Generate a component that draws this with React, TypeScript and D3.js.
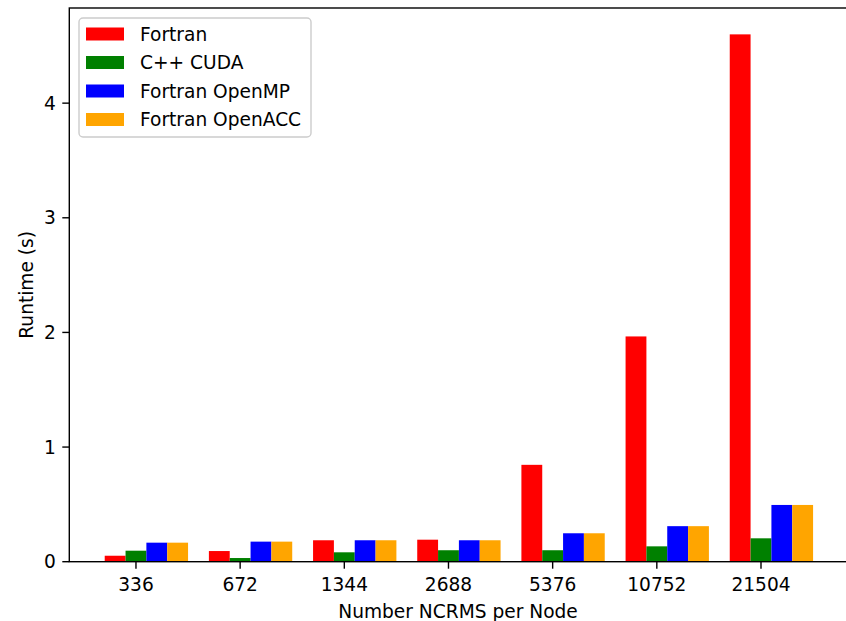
import React, { useEffect, useRef } from 'react';
import * as d3 from 'd3';

const categories = ['336', '672', '1344', '2688', '5376', '10752', '21504'];
const seriesNames = ['Fortran', 'C++ CUDA', 'Fortran OpenMP', 'Fortran OpenACC'];
const seriesColors = ['#ff0000', '#008000', '#0000ff', '#ffa500'];

const fortran = [0.052, 0.093, 0.187, 0.192, 0.845, 1.965, 4.6];
const cudaCpp = [0.096, 0.032, 0.082, 0.1, 0.1, 0.134, 0.204];
const fortranOmp = [0.166, 0.175, 0.187, 0.187, 0.248, 0.31, 0.495];
const fortranAcc = [0.166, 0.175, 0.187, 0.187, 0.248, 0.31, 0.495];

const yTicks = [0, 1, 2, 3, 4];

const W = 846;
const H = 621;

export default function App() {
    const ref = useRef<SVGSVGElement>(null);

    useEffect(() => {
        document.body.style.margin = '0';
        document.documentElement.style.overflow = 'hidden';

        const svg = d3.select(ref.current);
        svg.selectAll('*').remove();

        const series = [fortran, cudaCpp, fortranOmp, fortranAcc];
        const barW = 0.2;
        const offsets = [-0.2, 0, 0.2, 0.4];

        // matplotlib-like limits with 5% margin
        const x = d3.scaleLinear().domain([-0.64, 6.84]).range([69.3, 848.5]);
        const yMax = d3.max(fortran)! * 1.05;
        const y = d3.scaleLinear().domain([0, yMax]).range([561.7, 8]);

        const font = 'DejaVu Sans, sans-serif';
        const fs = 18.6;

        series.forEach((vals, s) => {
            svg.append('g')
                .selectAll('rect')
                .data(vals)
                .enter()
                .append('rect')
                .attr('x', (d, i) => x(i + offsets[s] - barW / 2))
                .attr('width', x(barW) - x(0))
                .attr('y', d => y(d))
                .attr('height', d => y(0) - y(d))
                .attr('fill', seriesColors[s]);
        });

        // spines
        const [x0, x1] = x.range();
        const [yb, yt] = y.range();
        svg.append('rect')
            .attr('x', x0).attr('y', yt)
            .attr('width', x1 - x0).attr('height', yb - yt)
            .attr('fill', 'none').attr('stroke', '#000').attr('stroke-width', 1.4);

        // x ticks
        const xg = svg.append('g');
        categories.forEach((c, i) => {
            xg.append('line')
                .attr('x1', x(i)).attr('x2', x(i))
                .attr('y1', yb).attr('y2', yb + 7)
                .attr('stroke', '#000').attr('stroke-width', 1.4);
            xg.append('text')
                .attr('x', x(i)).attr('y', 591)
                .attr('text-anchor', 'middle')
                .attr('font-family', font).attr('font-size', fs)
                .text(c);
        });

        // y ticks
        const yg = svg.append('g');
        yTicks.forEach(t => {
            yg.append('line')
                .attr('x1', x0 - 7).attr('x2', x0)
                .attr('y1', y(t)).attr('y2', y(t))
                .attr('stroke', '#000').attr('stroke-width', 1.4);
            yg.append('text')
                .attr('x', x0 - 13.5).attr('y', y(t))
                .attr('dy', '0.36em')
                .attr('text-anchor', 'end')
                .attr('font-family', font).attr('font-size', fs)
                .text(t);
        });

        svg.append('text')
            .attr('x', 458).attr('y', 618)
            .attr('text-anchor', 'middle')
            .attr('font-family', font).attr('font-size', fs)
            .text('Number NCRMS per Node');

        svg.append('text')
            .attr('transform', `translate(33,${(yb + yt) / 2}) rotate(-90)`)
            .attr('text-anchor', 'middle')
            .attr('font-family', font).attr('font-size', fs)
            .text('Runtime (s)');

        // legend
        const lg = svg.append('g');
        lg.append('rect')
            .attr('x', 79).attr('y', 18)
            .attr('width', 232).attr('height', 119)
            .attr('rx', 4)
            .attr('fill', '#fff').attr('fill-opacity', 0.8)
            .attr('stroke', '#cccccc').attr('stroke-width', 1.4);
        seriesNames.forEach((name, i) => {
            const cy = 34 + i * 28.5;
            lg.append('rect')
                .attr('x', 86).attr('y', cy - 6.5)
                .attr('width', 38).attr('height', 13)
                .attr('fill', seriesColors[i]);
            lg.append('text')
                .attr('x', 140).attr('y', cy + 6.8)
                .attr('font-family', font).attr('font-size', fs)
                .text(name);
        });
    }, []);

    return (
        <div>
            <svg ref={ref} width={W} height={H} style={{ display: 'block', background: '#fff' }} />
        </div>
    );
}
